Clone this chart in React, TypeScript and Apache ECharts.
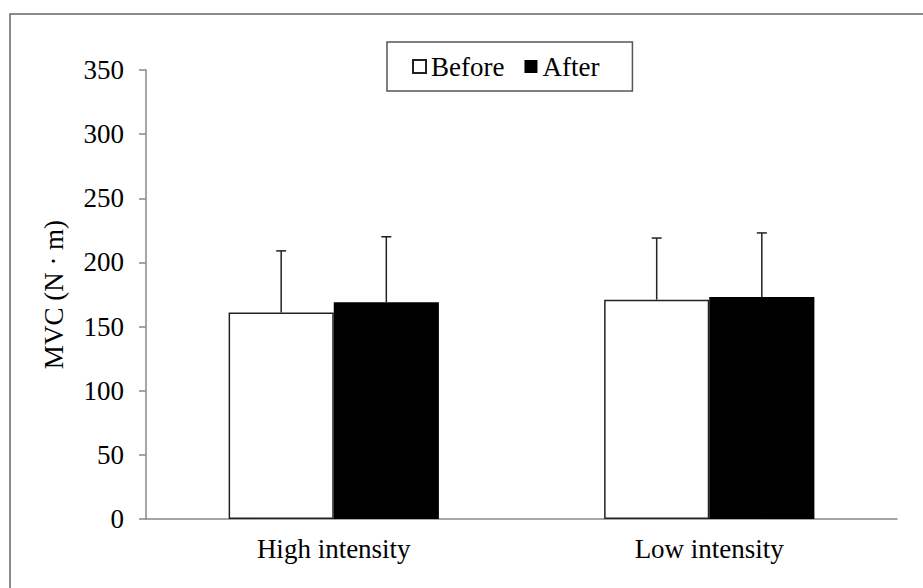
import React, { useEffect, useRef } from "react";
import * as echarts from "echarts";

const categories = ["High intensity", "Low intensity"];
const seriesNames = ["Before", "After"];
const beforeValues = [161, 171];
const afterValues = [169, 173];
const beforeSD = [48, 48];
const afterSD = [51, 50];
const yTicks = { min: 0, max: 350, interval: 50 };

const FONT = "'Liberation Serif', 'Times New Roman', serif";
const FS = 27;
const BAR_PCT = 0.28;

export default function App() {
  const ref = useRef<HTMLDivElement>(null);
  useEffect(() => {
    document.body.style.margin = "0";
    const chart = echarts.init(ref.current!, null, { renderer: "svg" });

    const errorSeries = (values: number[], sds: number[], side: number) => ({
      type: "custom",
      silent: true,
      z: 5,
      data: values.map((v, i) => [i, v, v + sds[i]]),
      renderItem: (params: any, api: any) => {
        const idx = api.value(0);
        const band = api.size([1, 0])[0];
        const off = ((band * BAR_PCT) / 2) * side;
        const base = api.coord([idx, api.value(1)]);
        const top = api.coord([idx, api.value(2)]);
        const x = base[0] + off;
        const style = { stroke: "#222", lineWidth: 1.5 };
        return {
          type: "group",
          children: [
            { type: "line", shape: { x1: x, y1: base[1], x2: x, y2: top[1] }, style },
            { type: "line", shape: { x1: x - 5, y1: top[1], x2: x + 5, y2: top[1] }, style },
          ],
        };
      },
    });

    chart.setOption({
      animation: false,
      backgroundColor: "#fff",
      textStyle: { fontFamily: FONT },
      grid: { left: 146, right: 26, top: 70, bottom: 69, containLabel: false },
      legend: {
        data: seriesNames,
        left: 387,
        top: 42,
        orient: "horizontal",
        icon: "rect",
        itemWidth: 13,
        itemHeight: 13,
        itemGap: 20,
        padding: [11, 33, 11, 25],
        borderColor: "#555",
        borderWidth: 1.5,
        textStyle: { fontFamily: FONT, fontSize: FS, color: "#000" },
      },
      xAxis: {
        type: "category",
        data: categories,
        axisLine: { lineStyle: { color: "#888", width: 1.5 } },
        axisTick: { show: false },
        axisLabel: { fontFamily: FONT, fontSize: FS, color: "#000", margin: 16 },
      },
      yAxis: {
        type: "value",
        min: yTicks.min,
        max: yTicks.max,
        interval: yTicks.interval,
        name: "MVC (N · m)",
        nameLocation: "middle",
        nameGap: 79,
        nameTextStyle: { fontFamily: FONT, fontSize: FS, color: "#000" },
        axisLine: { show: true, lineStyle: { color: "#888", width: 1.5 } },
        axisTick: { show: true, length: 7, lineStyle: { color: "#888", width: 1.5 } },
        splitLine: { show: false },
        axisLabel: { fontFamily: FONT, fontSize: FS, color: "#000", margin: 22 },
      },
      graphic: [
        {
          type: "rect",
          shape: { x: 10, y: 14, width: 1200, height: 1200 },
          style: { fill: "none", stroke: "#666", lineWidth: 1.5 },
          silent: true,
        },
      ],
      series: [
        {
          name: "Before",
          type: "bar",
          data: beforeValues,
          barWidth: "28%",
          barGap: "0%",
          itemStyle: { color: "#fff", borderColor: "#222", borderWidth: 1.5 },
        },
        {
          name: "After",
          type: "bar",
          data: afterValues,
          barWidth: "28%",
          itemStyle: { color: "#000", borderColor: "#000", borderWidth: 0 },
        },
        errorSeries(beforeValues, beforeSD, -1),
        errorSeries(afterValues, afterSD, 1),
      ],
    });
    return () => chart.dispose();
  }, []);
  return <div ref={ref} style={{ width: 923, height: 588 }} />;
}
